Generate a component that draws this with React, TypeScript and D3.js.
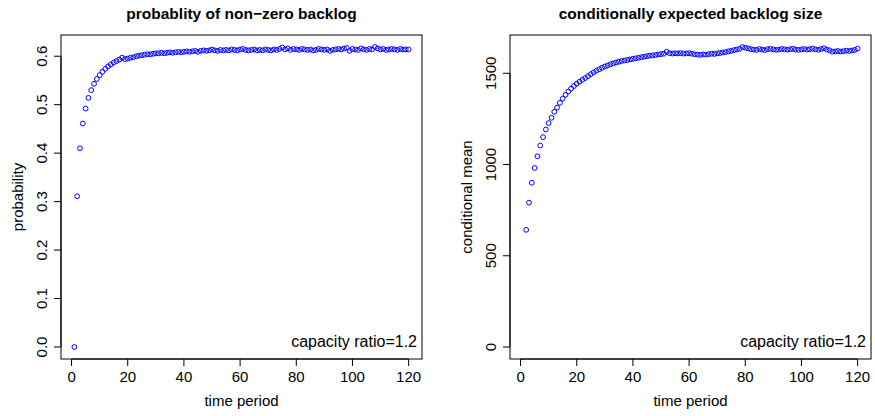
import React from "react";
import * as d3 from "d3";

const timePeriods: number[] = d3.range(1, 121);

const probability: number[] = [
  0.0, 0.311, 0.41, 0.461, 0.492, 0.514, 0.53, 0.543, 0.553, 0.561,
  0.568, 0.574, 0.579, 0.583, 0.587, 0.59, 0.593, 0.597, 0.594, 0.595,
  0.597, 0.598, 0.6, 0.601, 0.602, 0.603, 0.604, 0.604, 0.605, 0.606,
  0.606, 0.607, 0.606, 0.607, 0.608, 0.607, 0.608, 0.609, 0.608, 0.609,
  0.61, 0.609, 0.61, 0.611, 0.609, 0.611, 0.612, 0.611, 0.612, 0.614,
  0.612, 0.611, 0.613, 0.612, 0.613, 0.612, 0.614, 0.613, 0.612, 0.614,
  0.615, 0.613, 0.612, 0.613, 0.614, 0.612, 0.613, 0.612, 0.614, 0.613,
  0.612, 0.614, 0.613, 0.615, 0.618, 0.614, 0.616, 0.613, 0.615, 0.614,
  0.613, 0.615, 0.614, 0.613, 0.614, 0.612, 0.613, 0.615, 0.614, 0.613,
  0.614, 0.611, 0.613, 0.614, 0.615, 0.614, 0.616, 0.617, 0.611, 0.615,
  0.614, 0.613, 0.616, 0.614, 0.613, 0.615, 0.614, 0.619, 0.616, 0.614,
  0.615, 0.613, 0.614, 0.615, 0.614, 0.613, 0.615, 0.614, 0.614, 0.614,
];

const conditionalMean: (number | null)[] = [
  null, 642, 791, 900, 981, 1045, 1104, 1150, 1192, 1227,
  1256, 1289, 1312, 1338, 1361, 1382, 1400, 1416, 1430, 1443,
  1454, 1464, 1474, 1484, 1495, 1505, 1514, 1522, 1530, 1537,
  1543, 1549, 1554, 1559, 1563, 1567, 1570, 1573, 1576, 1579,
  1582, 1585, 1588, 1591, 1594, 1596, 1598, 1600, 1603, 1605,
  1607, 1618, 1610, 1608, 1610, 1609, 1611, 1608, 1609, 1610,
  1607, 1604, 1602, 1601, 1603, 1602, 1605, 1607, 1606, 1609,
  1611, 1614, 1616, 1620, 1623, 1627, 1630, 1634, 1644, 1640,
  1636, 1632, 1630, 1628, 1633, 1630, 1627, 1632, 1634, 1631,
  1628, 1630, 1633, 1631, 1629, 1632, 1634, 1630, 1628, 1631,
  1633, 1630, 1632, 1635, 1631, 1629, 1633, 1637, 1630, 1626,
  1618, 1620, 1622, 1619, 1621, 1624, 1622, 1625, 1628, 1635,
];

const xTicks: number[] = [0, 20, 40, 60, 80, 100, 120];
const probTicks: number[] = [0, 0.1, 0.2, 0.3, 0.4, 0.5, 0.6];
const meanTicks: number[] = [0, 500, 1000, 1500];

const FONT = "'Liberation Sans', Arial, Helvetica, sans-serif";
const FS = 15;

type PanelProps = {
  left: number;
  right: number;
  top: number;
  bottom: number;
  title: string;
  yLabel: string;
  values: (number | null)[];
  yTicks: number[];
  yFormat: (v: number) => string;
};

function Panel({ left, right, top, bottom, title, yLabel, values, yTicks, yFormat }: PanelProps) {
  const xMin = d3.min(timePeriods) as number;
  const xMax = d3.max(timePeriods) as number;
  const xPad = (xMax - xMin) * 0.04;
  const x = d3.scaleLinear().domain([xMin - xPad, xMax + xPad]).range([left, right]);
  const yMax = d3.max(values.filter((v) => v != null) as number[]) as number;
  const yPad = yMax * 0.04;
  const y = d3.scaleLinear().domain([-yPad, yMax + yPad]).range([bottom, top]);
  const cx = (left + right) / 2;
  const cy = (top + bottom) / 2;
  const tickLen = 7;
  return (
    <g fontFamily={FONT}>
      <text x={cx} y={19} textAnchor="middle" fontWeight="bold" fontSize={15.5}>
        {title}
      </text>
      {values.map((v, i) =>
        v == null ? null : (
          <circle
            key={i}
            cx={x(timePeriods[i])}
            cy={y(v)}
            r={2.4}
            fill="none"
            stroke="#0000ff"
            strokeWidth={1}
          />
        )
      )}
      <rect x={left} y={top} width={right - left} height={bottom - top} fill="none" stroke="#000" strokeWidth={1} />
      <line x1={x(xTicks[0])} x2={x(xTicks[xTicks.length - 1])} y1={bottom} y2={bottom} stroke="#000" />
      {xTicks.map((t) => (
        <g key={t}>
          <line x1={x(t)} x2={x(t)} y1={bottom} y2={bottom + tickLen} stroke="#000" />
          <text x={x(t)} y={382} textAnchor="middle" fontSize={FS}>
            {t}
          </text>
        </g>
      ))}
      <text x={cx} y={406} textAnchor="middle" fontSize={FS}>
        time period
      </text>
      <line x1={left} x2={left} y1={y(yTicks[0])} y2={y(yTicks[yTicks.length - 1])} stroke="#000" />
      {yTicks.map((t) => (
        <g key={t}>
          <line x1={left} x2={left - tickLen} y1={y(t)} y2={y(t)} stroke="#000" />
          <text
            transform={`translate(${left - 19},${y(t)}) rotate(-90)`}
            textAnchor="middle"
            dy="0.35em"
            fontSize={FS}
          >
            {yFormat(t)}
          </text>
        </g>
      ))}
      <text
        transform={`translate(${left - 43},${cy}) rotate(-90)`}
        textAnchor="middle"
        dy="0.35em"
        fontSize={FS}
      >
        {yLabel}
      </text>
      <text x={right - 5} y={347} textAnchor="end" fontSize={16}>
        capacity ratio=1.2
      </text>
    </g>
  );
}

export default function App() {
  return (
    <svg
      width={875}
      height={416}
      style={{ position: "absolute", left: 0, top: 0, background: "#fff" }}
    >
      <rect x={0} y={0} width={875} height={416} fill="#fff" />
      <Panel
        left={61}
        right={422}
        top={35}
        bottom={359}
        title="probablity of non−zero backlog"
        yLabel="probability"
        values={probability}
        yTicks={probTicks}
        yFormat={(v) => d3.format(".1f")(v)}
      />
      <Panel
        left={510}
        right={871}
        top={35}
        bottom={359}
        title="conditionally expected backlog size"
        yLabel="conditional mean"
        values={conditionalMean}
        yTicks={meanTicks}
        yFormat={(v) => String(v)}
      />
    </svg>
  );
}
